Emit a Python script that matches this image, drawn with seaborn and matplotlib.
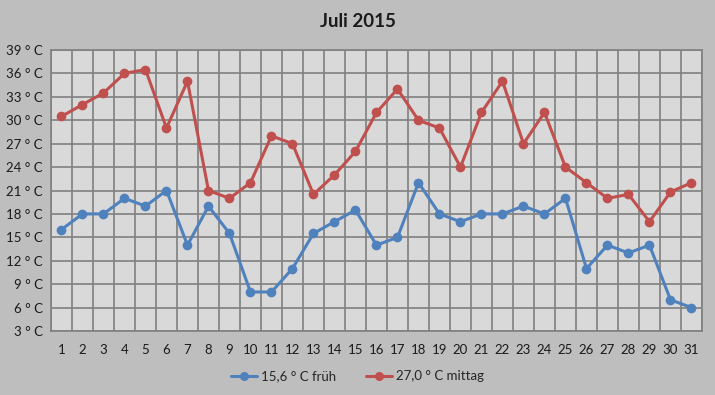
import matplotlib
matplotlib.use("Agg")
import matplotlib.pyplot as plt
import seaborn as sns
import pandas as pd
from matplotlib.ticker import FixedLocator

# Temperaturen Juli 2015
days = list(range(1, 32))
frueh = [16, 18, 18, 20, 19, 21, 14, 19, 15.5, 8, 8, 11, 15.5, 17, 18.5, 14,
         15, 22, 18, 17, 18, 18, 19, 18, 20, 11, 14, 13, 14, 7, 6]
mittag = [30.5, 32, 33.5, 36, 36.5, 29, 35, 21, 20, 22, 28, 27, 20.5, 23, 26, 31,
          34, 30, 29, 24, 31, 35, 27, 31, 24, 22, 20, 20.5, 17, 20.8, 22]
series_names = ["15,6 ° C früh", "27,0 ° C mittag"]
y_ticks = list(range(3, 40, 3))

df = pd.DataFrame({
    "Tag": days * 2,
    "Temp": frueh + mittag,
    "Serie": [series_names[0]] * len(days) + [series_names[1]] * len(days),
})

sns.set_style("white")
plt.rcParams["font.family"] = ["Lato", "DejaVu Sans"]

fig = plt.figure(figsize=(7.15, 3.95), dpi=100, facecolor="#bebebe")
ax = fig.add_axes([0.0713, 0.162, 0.9105, 0.7114])
ax.set_facecolor("#d9d9d9")

sns.lineplot(
    data=df, x="Tag", y="Temp", hue="Serie",
    palette=["#4f81bd", "#c0504d"],
    marker="o", markersize=7, markeredgewidth=0,
    linewidth=2.2, ax=ax, legend=False,
)

ax.set_xlim(0.5, 31.5)
ax.set_ylim(3, 39)
ax.set_xticks(days)
ax.set_xticklabels([str(d) for d in days], fontsize=9.5, color="#1a1a1a")
ax.xaxis.set_minor_locator(FixedLocator([d + 0.5 for d in range(0, 32)]))
ax.set_yticks(y_ticks)
ax.set_yticklabels([f"{t} ° C" for t in y_ticks], fontsize=9.5, color="#1a1a1a")
ax.tick_params(axis="both", which="both", length=0)
ax.tick_params(axis="x", pad=9)
ax.tick_params(axis="y", pad=6)

ax.grid(False)
ax.grid(axis="y", which="major", color="#808080", linewidth=1.2)
ax.grid(axis="x", which="minor", color="#808080", linewidth=1.2)
ax.set_axisbelow(True)
for s in ax.spines.values():
    s.set_visible(True)
    s.set_color("#808080")
    s.set_linewidth(1.2)

ax.set_xlabel("")
ax.set_ylabel("")
fig.text(0.5, 0.945, "Juli 2015", ha="center", va="center",
         fontsize=13.5, fontweight="bold", color="#1a1a1a")

handles = [plt.Line2D([], [], color=c, marker="o", markersize=5.5, linewidth=2.2)
           for c in ["#4f81bd", "#c0504d"]]
fig.legend(handles, series_names, loc="center", bbox_to_anchor=(0.5, 0.047),
           ncol=2, frameon=False, fontsize=9.5, handlelength=2.0,
           handletextpad=0.3, columnspacing=2.2)

fig.savefig("out.png", dpi=100, facecolor=fig.get_facecolor())
